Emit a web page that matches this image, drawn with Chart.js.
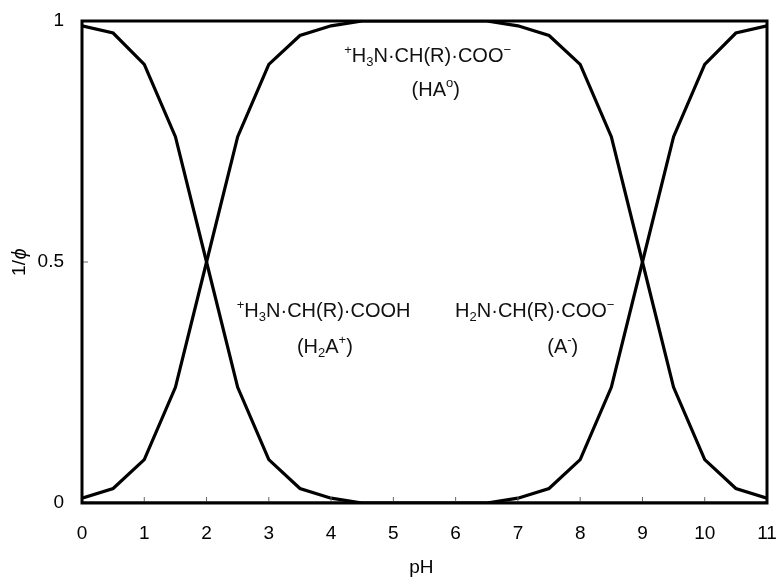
<!DOCTYPE html>
<html>
<head>
<meta charset="utf-8">
<script src="https://cdn.jsdelivr.net/npm/chart.js@4"></script>
<style>
  html, body { margin: 0; padding: 0; background: #fff; }
  #wrap { width: 778px; height: 580px; }
</style>
</head>
<body>
<div id="wrap"><canvas id="chart" width="778" height="580"></canvas></div>
<script>
// pH values (x) and species fractions
const phValues = [0, 0.5, 1, 1.5, 2, 2.5, 3, 3.5, 4, 4.5, 5, 5.5, 6, 6.5, 7, 7.5, 8, 8.5, 9, 9.5, 10, 10.5, 11];
const h2aPlus = [0.99, 0.975, 0.91, 0.76, 0.50, 0.24, 0.09, 0.03, 0.01, 0, 0, 0, 0, 0, 0, 0, 0, 0, 0, 0, 0, 0, 0];
const haZero  = [0.01, 0.03, 0.09, 0.24, 0.50, 0.76, 0.91, 0.97, 0.99, 1, 1, 1, 1, 1, 0.99, 0.97, 0.91, 0.76, 0.50, 0.24, 0.09, 0.03, 0.01];
const aMinus  = [0, 0, 0, 0, 0, 0, 0, 0, 0, 0, 0, 0, 0, 0, 0.01, 0.03, 0.09, 0.24, 0.50, 0.76, 0.91, 0.975, 0.99];
const xTicks = [0, 1, 2, 3, 4, 5, 6, 7, 8, 9, 10, 11];
const yTicks = [0, 0.5, 1];
const yTickLabels = ['0', '0.5', '1'];

const FONT = "'Liberation Sans', Arial, sans-serif";
const ink = '#000';

function toPoints(ys) {
    return phValues.map((x, i) => ({ x: x, y: ys[i] }));
}

function lineSet(label, ys) {
    return {
        label: label,
        data: toPoints(ys),
        borderColor: ink,
        borderWidth: 3.2,
        pointRadius: 0,
        tension: 0,
        fill: false
    };
}

// text with sub/superscripts, centred on cx
function drawRich(ctx, parts, cx, y, size) {
    const small = Math.round(size * 0.66);
    let total = 0;
    parts.forEach(p => {
        ctx.font = (p[1] ? small : size) + 'px ' + FONT;
        total += ctx.measureText(p[0]).width;
    });
    let x = cx - total / 2;
    ctx.textAlign = 'left';
    ctx.textBaseline = 'alphabetic';
    parts.forEach(p => {
        ctx.font = (p[1] ? small : size) + 'px ' + FONT;
        let dy = 0;
        if (p[1] === 'sub') dy = size * 0.2;
        if (p[1] === 'sup') dy = -size * 0.42;
        ctx.fillText(p[0], x, y + dy);
        x += ctx.measureText(p[0]).width;
    });
}

const framePlugin = {
    id: 'frame',
    afterDatasetsDraw(chart) {
        const ctx = chart.ctx;
        const a = chart.chartArea;
        const xs = chart.scales.x, ys = chart.scales.y;
        ctx.save();
        // inward tick marks
        ctx.strokeStyle = '#666';
        ctx.lineWidth = 1;
        xTicks.forEach(v => {
            const px = xs.getPixelForValue(v);
            ctx.beginPath();
            ctx.moveTo(px, a.bottom);
            ctx.lineTo(px, a.bottom - 6);
            ctx.stroke();
        });
        yTicks.forEach(v => {
            const py = ys.getPixelForValue(v);
            ctx.beginPath();
            ctx.moveTo(a.left, py);
            ctx.lineTo(a.left + 6, py);
            ctx.stroke();
        });
        // box
        ctx.strokeStyle = ink;
        ctx.lineWidth = 3;
        ctx.strokeRect(a.left, a.top, a.right - a.left, a.bottom - a.top);

        // species labels
        ctx.fillStyle = '#111';
        const P = (x, y) => [xs.getPixelForValue(x), ys.getPixelForValue(y)];
        const fs = 20;
        let p;
        p = P(5.55, 0.915);
        drawRich(ctx, [['+', 'sup'], ['H', ''], ['3', 'sub'], ['N·CH(R)·COO', ''], ['−', 'sup']], p[0], p[1], fs);
        p = P(5.68, 0.845);
        drawRich(ctx, [['(HA', ''], ['o', 'sup'], [')', '']], p[0], p[1], fs);
        p = P(3.88, 0.385);
        drawRich(ctx, [['+', 'sup'], ['H', ''], ['3', 'sub'], ['N·CH(R)·COOH', '']], p[0], p[1], fs);
        p = P(3.9, 0.312);
        drawRich(ctx, [['(H', ''], ['2', 'sub'], ['A', ''], ['+', 'sup'], [')', '']], p[0], p[1], fs);
        p = P(7.27, 0.385);
        drawRich(ctx, [['H', ''], ['2', 'sub'], ['N·CH(R)·COO', ''], ['−', 'sup']], p[0], p[1], fs);
        p = P(7.72, 0.312);
        drawRich(ctx, [['(A', ''], ['-', 'sup'], [')', '']], p[0], p[1], fs);

        // axis titles
        ctx.fillStyle = ink;
        ctx.font = '19px ' + FONT;
        ctx.textAlign = 'center';
        ctx.textBaseline = 'middle';
        ctx.fillText('pH', xs.getPixelForValue(5.45), 568);
        ctx.translate(20, ys.getPixelForValue(0.5) + 1);
        ctx.rotate(-Math.PI / 2);
        ctx.textAlign = 'center';
        ctx.fillText('1/', -5, 0);
        ctx.font = 'italic 20px ' + FONT;
        ctx.fillText('ϕ', 9, 0);
        ctx.restore();
    }
};

new Chart(document.getElementById('chart'), {
    type: 'line',
    data: {
        datasets: [
            lineSet('H2A+', h2aPlus),
            lineSet('HA0', haZero),
            lineSet('A-', aMinus)
        ]
    },
    options: {
        responsive: false,
        animation: false,
        layout: { padding: { top: 21, right: 11, left: 0, bottom: 0 } },
        plugins: {
            legend: { display: false },
            tooltip: { enabled: false }
        },
        scales: {
            x: {
                type: 'linear',
                min: 0,
                max: 11,
                afterBuildTicks: s => { s.ticks = xTicks.map(v => ({ value: v })); },
                afterFit: s => { s.height = 77; s.paddingLeft = 0; s.paddingRight = 0; },
                grid: { display: false, drawTicks: false },
                border: { display: false },
                ticks: { color: ink, padding: 19, font: { size: 19, family: FONT } }
            },
            y: {
                min: 0,
                max: 1,
                afterBuildTicks: s => { s.ticks = yTicks.map(v => ({ value: v })); },
                afterFit: s => { s.width = 82; s.paddingTop = 0; s.paddingBottom = 0; },
                grid: { display: false, drawTicks: false },
                border: { display: false },
                ticks: {
                    color: ink,
                    padding: 18,
                    font: { size: 19, family: FONT },
                    callback: v => yTickLabels[yTicks.indexOf(v)]
                }
            }
        }
    },
    plugins: [framePlugin]
});
</script>
</body>
</html>
